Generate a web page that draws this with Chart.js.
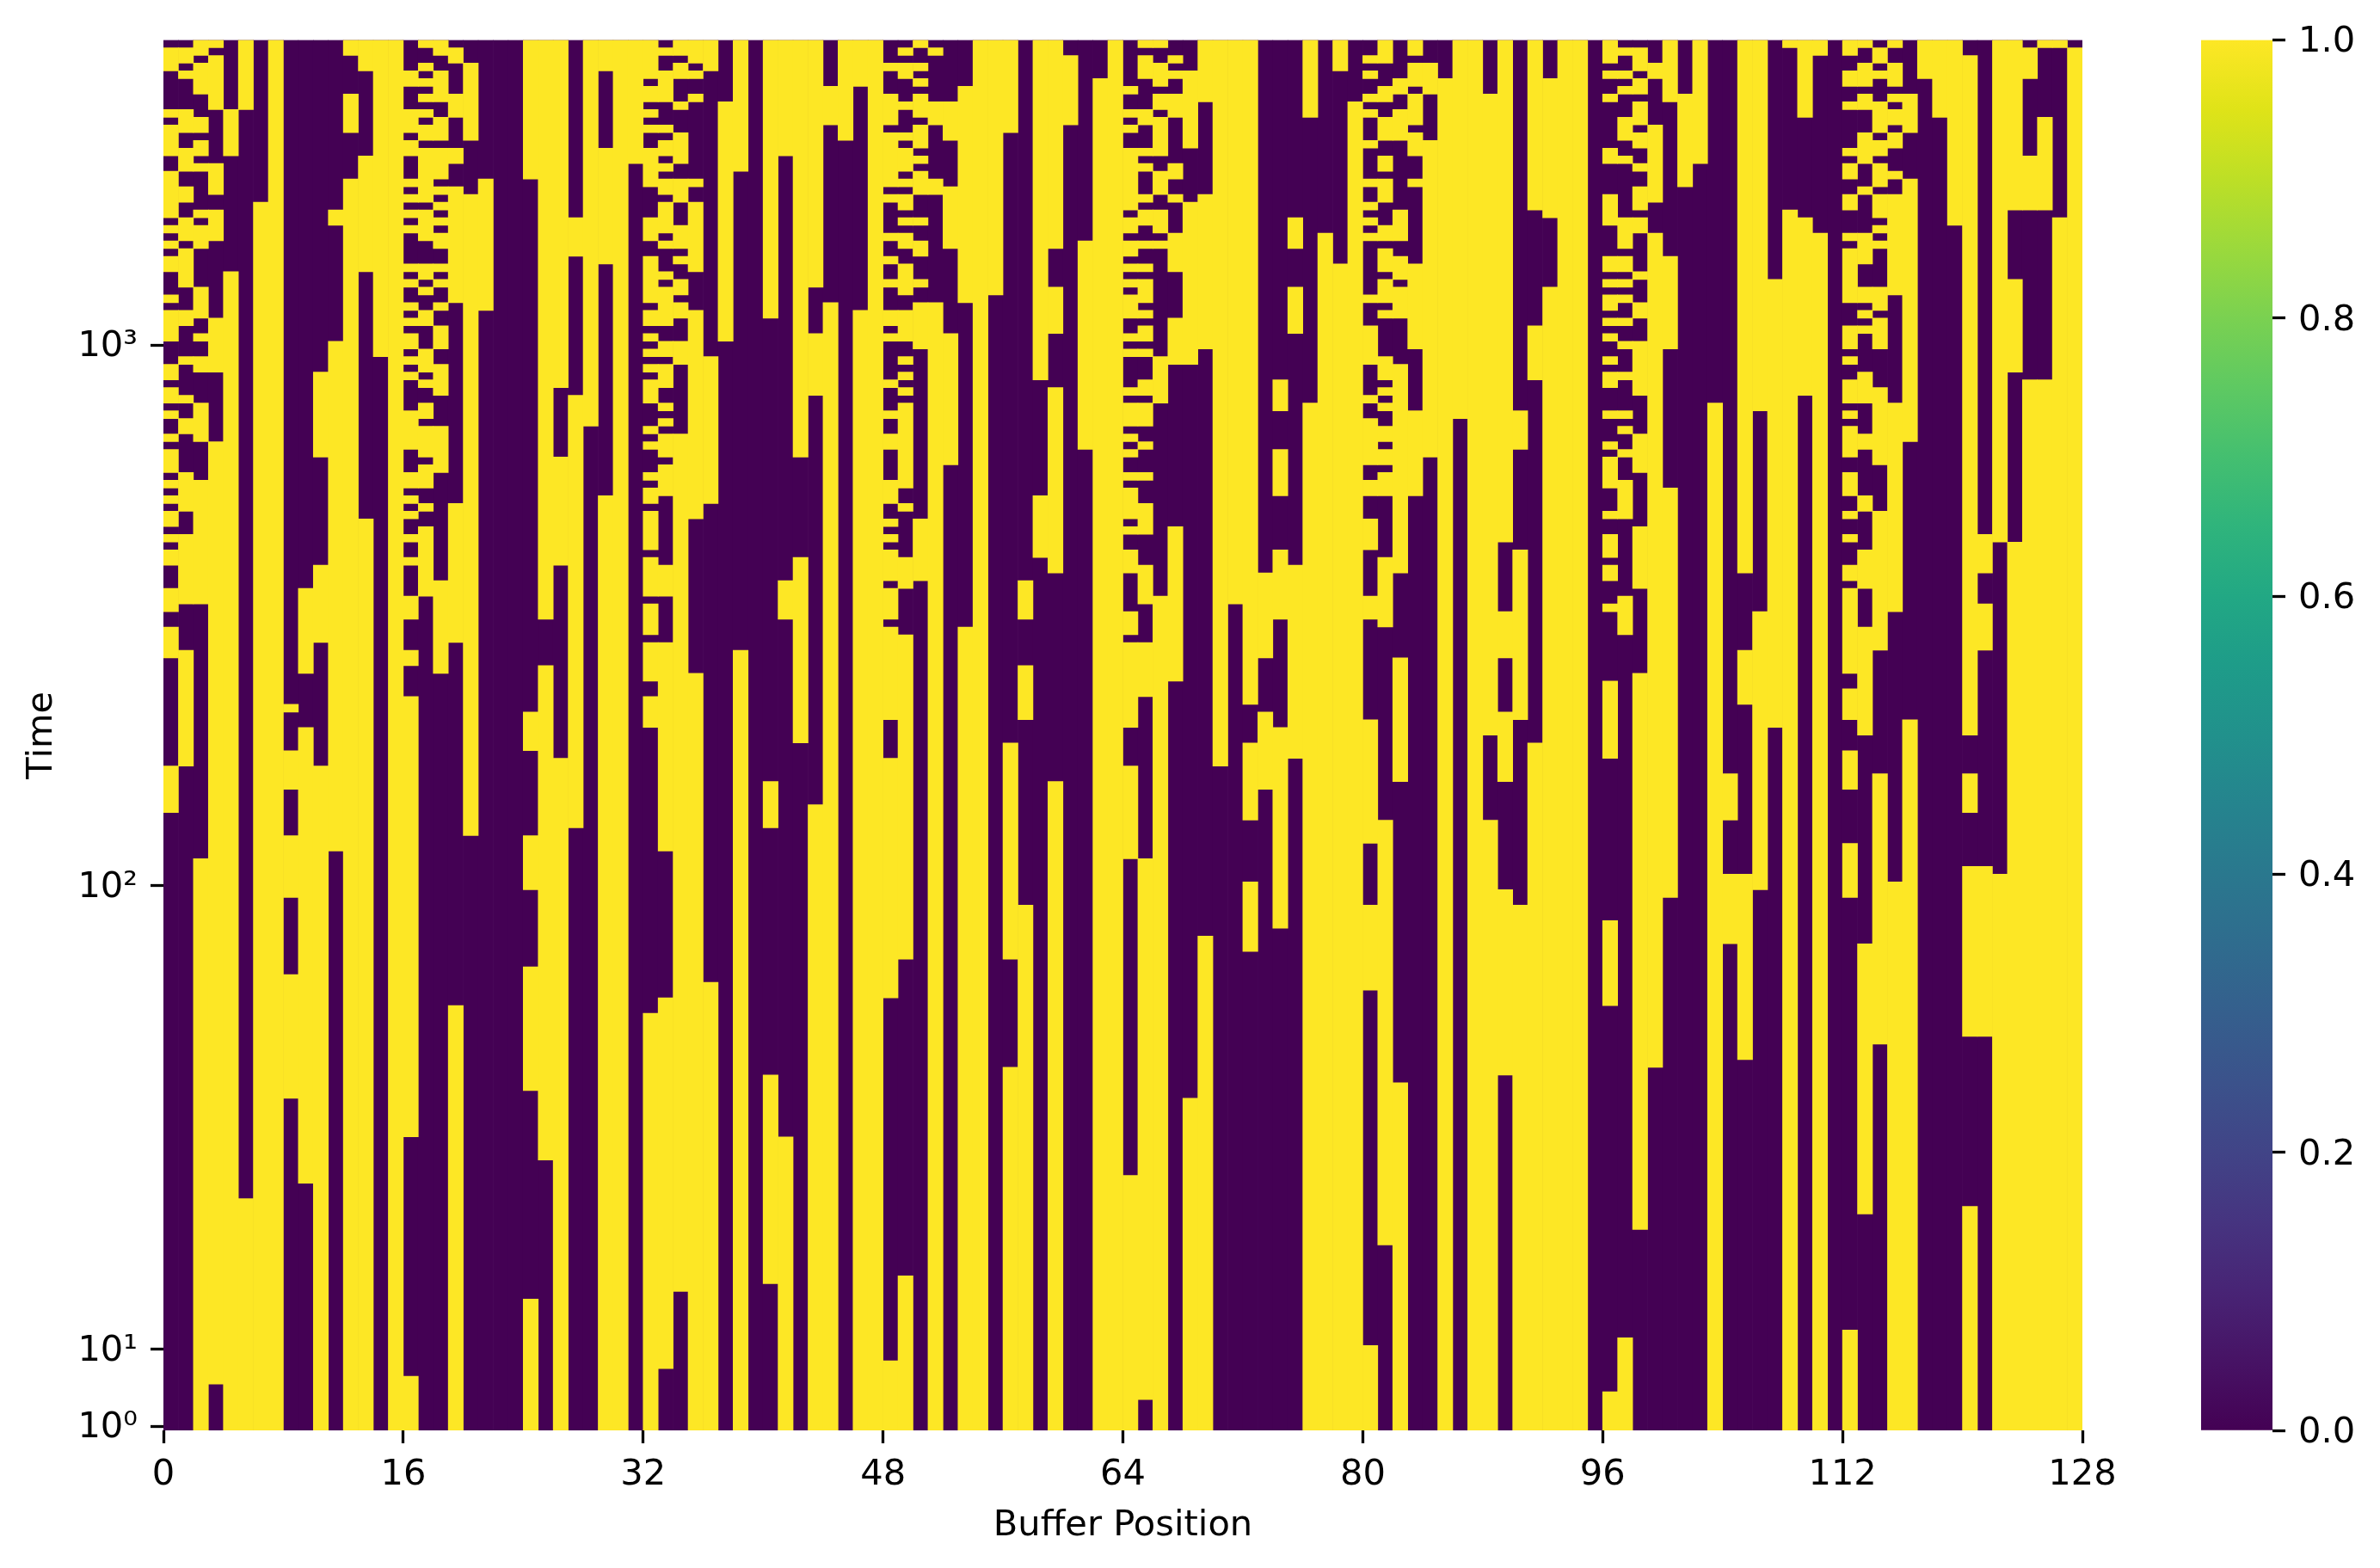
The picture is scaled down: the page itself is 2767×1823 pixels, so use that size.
<!DOCTYPE html>
<html>
<head>
<meta charset="utf-8">
<style>
html,body{margin:0;padding:0;background:#fff;}
canvas{position:absolute;top:0;}
</style>
<script src="https://cdn.jsdelivr.net/npm/chart.js@4"></script>
</head>
<body>
<canvas id="main" width="2767" height="1823" style="left:0;width:2767px;height:1823px"></canvas>
<canvas id="cbar" width="267" height="1823" style="left:2500px;width:267px;height:1823px"></canvas>
<script>
// Yellow (value 1) runs per buffer position, as flat start,end pairs of row numbers counted from the top row.
const yellowCols0to15 = [
[1,4,9,10,11,15,17,23,24,25,26,27,28,30,33,34,35,39,42,44,45,47,48,49,51,52,53,56,57,58,59,60,61,63,64,65,66,68,71,74,76,80,94,100],
[1,3,4,5,9,12,14,17,19,21,23,26,27,32,35,37,41,42,46,47,49,51,56,61,64,73,79,94],
[0,2,3,7,10,12,13,15,16,17,22,23,24,27,32,36,38,39,41,43,47,52,57,73,106,180],
[0,1,2,9,16,20,22,26,36,43,52,174],
[9,15,30,180],
[0,9,150,180],
[21,180],
[0,180],
[86,87,92,97,103,111,121,137],
[71,82,89,148],
[43,54,68,78,94,180],
[22,24,39,105],
[0,2,7,12,18,180],
[0,4,15,30,62,180],
[0,41],
[0,180]];
const yellowCols16to31 = [
[4,6,9,12,13,15,18,19,20,21,22,23,24,25,29,30,31,32,34,35,36,37,38,40,41,42,43,44,48,53,56,58,59,60,61,62,64,65,67,68,72,75,79,81,85,142,173,180],
[0,1,3,4,5,6,7,8,9,10,11,13,14,21,22,26,29,31,32,33,35,37,40,43,44,45,47,49,50,54,55,58,60,61,63,72],
[0,2,4,8,10,13,14,18,19,20,21,22,23,24,25,27,29,30,31,32,34,35,37,40,42,46,50,56,70,82],
[1,3,7,10,14,16,19,34,60,78,125,180],
[3,13,20,103],
[18,35],
[],
[],
[0,18,87,92,103,110,120,136,163,180],
[0,75,81,145],
[0,45,54,68,93,180],
[23,28,46,102],
[0,50],
[0,4,14,29,59,180],
[0,180],
[0,16]];
const yellowCols32to47 = [
[0,5,6,8,9,10,11,12,14,19,23,26,28,34,35,37,38,39,40,41,42,43,44,47,50,51,52,53,56,57,58,60,61,66,67,72,73,77,78,83,85,89,126,180],
[1,2,4,8,11,12,13,15,16,17,18,20,21,25,26,27,30,31,32,37,39,41,42,45,47,48,49,50,51,54,55,59,68,72,78,105,124,172],
[0,2,3,5,8,9,12,16,18,21,24,27,28,29,31,33,34,36,39,42,51,162],
[0,3,4,5,7,8,18,19,21,30,35,62,82,180],
[0,4,41,60,122,180],
[8,39],
[0,17,79,180],
[],
[0,36,96,102,134,161],
[0,15,70,75,142,180],
[0,54,67,91],
[0,32,38,46,99,180],
[6,11,34,180],
[0,13],
[0,6,35,180],
[0,180]];
const yellowCols48to63 = [
[3,4,7,11,12,19,20,21,25,26,28,29,31,32,35,37,38,39,44,45,48,49,51,53,57,60,62,63,64,65,66,70,71,75,76,88,93,124,171,180],
[1,2,3,5,8,9,12,13,14,17,18,19,20,22,23,24,25,27,29,33,35,39,41,42,43,44,45,46,47,58,60,61,67,71,77,119,160,180],
[0,1,3,4,5,6,7,10,11,14,15,16,17,20,23,24,26,28,31,32,34,40,62,70],
[1,2,8,11,18,20,34,180],
[8,13,19,27,38,55],
[6,34,76,180],
[0,180],
[0,33],
[0,12,91,119,133,180],
[70,75,81,88,112,180],
[0,44,59,67],
[0,27,32,38,45,69,96,180],
[2,11],
[26,53],
[5,180],
[0,180]];
const yellowCols64to79 = [
[6,7,9,10,11,12,14,22,23,25,26,28,29,30,31,32,33,36,38,39,40,41,45,46,47,50,51,52,53,54,56,57,58,62,63,64,66,69,74,77,78,89,94,106,147,180],
[0,1,2,5,9,11,14,15,16,17,20,21,22,24,26,27,29,30,31,34,35,36,37,39,40,41,44,46,47,50,52,53,56,57,60,64,68,73,78,85,106,176],
[0,1,3,6,7,9,10,15,17,20,22,25,26,27,41,47,72,180],
[2,3,4,5,7,10,16,18,20,21,25,30,36,42,63,83],
[4,14,21,42,137,180],
[0,8,20,40,116,180],
[0,94],
[0,73],
[0,86,91,101,109,118],
[69,80,87,97],
[44,48,53,59,66,75,89,115],
[23,27,32,38,68,93],
[0,10,47,180],
[25,180],
[0,4,29,180],
[8,180]];
const yellowCols80to95 = [
[2,3,4,5,7,8,9,10,13,14,18,19,21,22,23,24,25,26,33,34,37,42,46,47,49,55,57,59,62,66,72,75,88,104,112,123,169,180],
[0,3,6,8,10,13,15,17,18,21,24,26,27,30,31,34,35,36,41,44,45,46,47,48,50,52,53,55,56,59,67,76,101,156],
[5,7,9,13,22,26,28,31,32,36,42,69,80,96,135,180],
[0,2,3,6,7,11,12,15,18,19,29,40,48,59],
[3,7,13,54],
[5,180],
[0,49],
[0,180],
[7,90,101,180],
[0,65,74,80,87,96,110,134],
[48,53,66,88,112,180],
[0,22,37,44,91,180],
[5,23,32,180],
[0,180],
[0,180],
[]];
const yellowCols96to111 = [
[0,3,4,5,7,8,14,16,20,24,28,30,31,32,33,35,36,37,38,39,41,42,43,45,48,49,52,53,54,58,61,62,64,67,68,70,73,74,83,93,114,125,175,180],
[1,2,4,5,6,7,10,13,15,16,23,27,28,30,31,32,33,34,36,37,39,40,43,44,48,49,50,51,53,54,57,62,72,77,168,180],
[1,4,5,7,8,11,12,14,16,17,19,22,23,25,30,31,34,36,39,46,51,56,63,71,82,154],
[3,5,11,21,25,133],
[0,8,28,40,58,111],
[7,19],
[0,16],
[47,180],
[95,101,108,117],
[0,69,79,86,108,132],
[0,48,74,110],
[31,89],
[0,1,22,180],
[0,10,23,46],
[0,2,25,180],
[]];
const yellowCols112to127 = [
[0,2,4,6,8,9,14,15,16,18,20,22,25,26,27,34,37,40,41,42,44,47,48,49,50,54,56,59,61,62,64,65,68,70,71,82,84,88,92,97,104,111,167,180],
[0,1,3,6,7,9,12,16,19,20,25,29,32,34,35,36,37,38,43,47,51,53,59,61,66,71,76,90,117,152],
[1,3,4,5,8,12,13,15,16,19,20,23,24,25,26,27,32,35,36,40,45,55,61,79,95,130],
[0,1,3,6,7,8,9,11,12,14,17,18,20,33,47,74,109,180],
[7,12,18,52,88,180],
[0,5],
[0,10],
[0,24],
[2,90,95,100,107,129,151,180],
[64,69,73,79,107,129],
[0,65,108,180],
[0,22,31,43,65,180],
[1,5,15,22,44,180],
[0,1,10,22,44,180],
[0,1,23,180],
[1,180]];
const rowCount = 180;
const columnCount = 128;
const xTickValues = [0,16,32,48,64,80,96,112,128];
const yTickRows = [179.5,169.5,109.5,39.5];
const yTickLabels = ['10\u2070','10\u00B9','10\u00B2','10\u00B3'];
const cbarTickValues = [0,0.2,0.4,0.6,0.8,1];
const viridisStops = ['#440154','#471365','#482475','#463480','#414487','#3b528b','#355f8d','#2f6c8e','#2a788e','#25848e','#21918c','#1e9c89','#22a884','#2fb47c','#44bf70','#5ec962','#7ad151','#9bd93c','#bddf26','#dfe318','#fde725'];
const COLOR_LOW = '#440154', COLOR_HIGH = '#fde725';

const yellowCols = [].concat(yellowCols0to15,yellowCols16to31,yellowCols32to47,yellowCols48to63,yellowCols64to79,yellowCols80to95,yellowCols96to111,yellowCols112to127);
const baseBars = [], yellowBars = [];
yellowCols.forEach((runs,c)=>{
  baseBars.push({x:c+0.5,y:[0,rowCount]});
  for(let i=0;i<runs.length;i+=2) yellowBars.push({x:c+0.5,y:[runs[i],runs[i+1]]});
});
const FONT = '"DejaVu Sans"';
const FS = 41.6;
const LEFT = 190, RIGHT = 2421, TOP = 46.5, BOTTOM = 1663;
const tickOpts = {color:'#000',font:{family:FONT,size:FS},padding:12,maxRotation:0,minRotation:0,autoSkip:false};
const gridOpts = {display:true,drawOnChartArea:false,drawTicks:true,tickLength:15,tickWidth:3.3,tickColor:'#000'};

new Chart(document.getElementById('main'),{
  type:'bar',
  data:{datasets:[
    {label:'1',data:yellowBars,backgroundColor:COLOR_HIGH,borderWidth:0,barPercentage:1,categoryPercentage:1,grouped:false,order:1},
    {label:'0',data:baseBars,backgroundColor:COLOR_LOW,borderWidth:0,barPercentage:1,categoryPercentage:1,grouped:false,order:2}
  ]},
  options:{
    responsive:false,animation:false,devicePixelRatio:1,
    layout:{padding:{left:0,right:2767-RIGHT,top:TOP,bottom:0}},
    plugins:{legend:{display:false},tooltip:{enabled:false},title:{display:false}},
    scales:{
      x:{type:'linear',offset:false,min:0,max:columnCount,
        grid:Object.assign({offset:false},gridOpts),border:{display:false},
        afterBuildTicks(s){s.ticks=xTickValues.map(v=>({value:v}));},
        ticks:Object.assign({},tickOpts,{callback:v=>String(v)}),
        title:{display:true,text:'Buffer Position',color:'#000',font:{family:FONT,size:FS},padding:{top:0,bottom:24}},
        afterFit(s){s.height=1823-BOTTOM;}
      },
      y:{type:'linear',reverse:true,min:0,max:rowCount,
        grid:gridOpts,border:{display:false},
        afterBuildTicks(s){s.ticks=yTickRows.map(v=>({value:v}));},
        ticks:Object.assign({},tickOpts,{padding:15,labelOffset:2,callback:v=>yTickLabels[yTickRows.indexOf(v)]}),
        title:{display:true,text:'Time',color:'#000',font:{family:FONT,size:FS},padding:{top:24,bottom:0}},
        afterFit(s){s.width=LEFT;}
      }
    }
  }
});

new Chart(document.getElementById('cbar'),{
  type:'bar',
  data:{labels:['colorbar'],datasets:[{
    data:[[0,1]],borderWidth:0,barPercentage:1,categoryPercentage:1,
    backgroundColor(ctx){
      const a=ctx.chart.chartArea; if(!a) return COLOR_LOW;
      const g=ctx.chart.ctx.createLinearGradient(0,a.bottom,0,a.top);
      viridisStops.forEach((c,i)=>g.addColorStop(i/(viridisStops.length-1),c));
      return g;
    }
  }]},
  options:{
    responsive:false,animation:false,devicePixelRatio:1,
    layout:{padding:{left:59,right:0,top:TOP,bottom:1823-BOTTOM}},
    plugins:{legend:{display:false},tooltip:{enabled:false}},
    scales:{
      x:{display:false},
      y:{type:'linear',position:'right',min:0,max:1,
        grid:gridOpts,border:{display:false},
        afterBuildTicks(s){s.ticks=cbarTickValues.map(v=>({value:v}));},
        ticks:Object.assign({},tickOpts,{padding:15,labelOffset:3,callback:v=>v.toFixed(1)}),
        afterFit(s){s.width=125;}
      }
    }
  }
});
</script>
</body>
</html>
